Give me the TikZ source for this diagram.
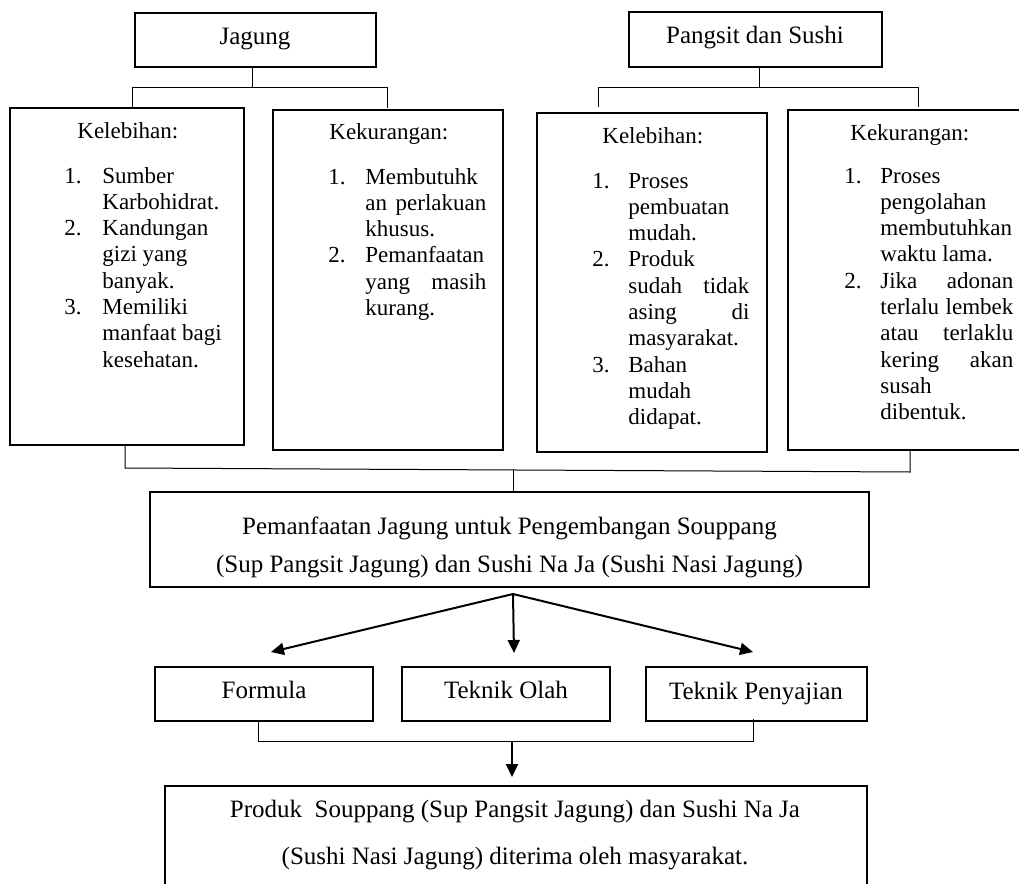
\documentclass[tikz,border=0pt]{standalone}
\usepackage{fontspec}
\setmainfont{Liberation Serif}
\usetikzlibrary{arrows.meta}
\newcommand\jl[1]{\makebox[\linewidth][s]{#1}}
\newcommand\lstfont{\fontsize{11.5}{13.15}\selectfont}
\newcommand\bigfont{\fontsize{12.5}{15}\selectfont}
\begin{document}
\begin{tikzpicture}[x=0.5pt,y=-0.5pt,
  box/.style={draw, line width=1pt, inner sep=0pt},
  conn/.style={line width=0.5pt},
  arr/.style={line width=1pt, -{Triangle[length=6.5pt,width=6pt]}},
  big/.style={font=\bigfont, inner sep=0pt, anchor=base},
  lst/.style={font=\lstfont, inner sep=0pt, anchor=base west}]
\useasboundingbox (0,0) rectangle (1019,884);

% boxes
\node[box, minimum width=120.5pt, minimum height=27pt] (jag) at (255.5,40) {};
\node[box, minimum width=126.5pt, minimum height=27.5pt] (pan) at (755.5,39.5) {};
\node[box, minimum width=117pt, minimum height=168.5pt] (k1) at (127,276.5) {};
\node[box, minimum width=115pt, minimum height=170pt] (k2) at (388,280) {};
\node[box, minimum width=115pt, minimum height=169.5pt] (k3) at (652,282.5) {};
\node[box, minimum width=118.5pt, minimum height=170pt] (k4) at (906.5,280) {};
\node[box, minimum width=359.5pt, minimum height=47.5pt] (main) at (509.5,539.5) {};
\node[box, minimum width=109pt, minimum height=27pt] (f1) at (264,694) {};
\node[box, minimum width=104pt, minimum height=27pt] (f2) at (506,694) {};
\node[box, minimum width=110.5pt, minimum height=27pt] (f3) at (756.5,694) {};
\node[box, minimum width=351pt, minimum height=57pt] (prod) at (516,843) {};

% top texts
\node[big] (tjag) at (255,44) {Jagung};
\node[big] (tpan) at (755,43) {Pangsit dan Sushi};

% box k1
\node[lst] (h1) at (77,138) {Kelebihan:};
\node[lst] (n11) at (64,183) {1.};
\node[lst] (t11) at (102,183) {\parbox[t]{65pt}{Sumber\\Karbohidrat.}};
\node[lst] (n12) at (64,235.6) {2.};
\node[lst] (t12) at (102,235.6) {\parbox[t]{65pt}{Kandungan\\gizi yang\\banyak.}};
\node[lst] (n13) at (64,314.5) {3.};
\node[lst] (t13) at (102,314.5) {\parbox[t]{65pt}{Memiliki\\manfaat bagi\\kesehatan.}};

% box k2
\node[lst] (h2) at (329,139) {Kekurangan:};
\node[lst] (n21) at (328,184) {1.};
\node[lst] (t21) at (365,184) {\parbox[t]{60.5pt}{Membutuhk\\\jl{an perlakuan}\\khusus.}};
\node[lst] (n22) at (328,262.9) {2.};
\node[lst] (t22) at (365,262.9) {\parbox[t]{60.5pt}{Pemanfaatan\\\jl{yang masih}\\kurang.}};

% box k3
\node[lst] (h3) at (602,143) {Kelebihan:};
\node[lst] (n31) at (592,188) {1.};
\node[lst] (t31) at (628,188) {\parbox[t]{60.5pt}{Proses\\pembuatan\\mudah.}};
\node[lst] (n32) at (592,266.9) {2.};
\node[lst] (t32) at (628,266.9) {\parbox[t]{60.5pt}{Produk\\\jl{sudah tidak}\\\jl{asing di}\\masyarakat.}};
\node[lst] (n33) at (592,372.1) {3.};
\node[lst] (t33) at (628,372.1) {\parbox[t]{60.5pt}{Bahan\\mudah\\didapat.}};

% box k4
\node[lst] (h4) at (850,140) {Kekurangan:};
\node[lst] (n41) at (844,183) {1.};
\node[lst] (t41) at (880,183) {\parbox[t]{66.5pt}{Proses\\pengolahan\\membutuhkan\\waktu lama.}};
\node[lst] (n42) at (844,288.2) {2.};
\node[lst] (t42) at (880,288.2) {\parbox[t]{66.5pt}{\jl{Jika adonan}\\\jl{terlalu lembek}\\\jl{atau terlaklu}\\\jl{kering akan}\\susah\\dibentuk.}};

% main texts
\node[big] (m1) at (509.5,534) {Pemanfaatan Jagung untuk Pengembangan Souppang};
\node[big] (m2) at (509.5,572) {(Sup Pangsit Jagung) dan Sushi Na Ja (Sushi Nasi Jagung)};
\node[big] (tf1) at (264,698) {Formula};
\node[big] (tf2) at (506,698) {Teknik Olah};
\node[big] (tf3) at (756,699) {Teknik Penyajian};
\node[big] (p1) at (515,817) {Produk\ \ Souppang (Sup Pangsit Jagung) dan Sushi Na Ja};
\node[big] (p2) at (515,864) {(Sushi Nasi Jagung) diterima oleh masyarakat.};

% top tree connectors
\coordinate (jb) at (252,87);
\coordinate (jL) at (132,108);
\coordinate (jR) at (387,108);
\draw[conn] (jb |- jag.south) -- (jb);
\draw[conn] (jL) -- (jL |- jb) -- (jR |- jb) -- (jR);
\coordinate (pb) at (759,87);
\coordinate (pL) at (598,107);
\coordinate (pR) at (918,107);
\draw[conn] (pb |- pan.south) -- (pb);
\draw[conn] (pL) -- (pL |- pb) -- (pR |- pb) -- (pR);

% join to main
\coordinate (u1) at (125,468);
\coordinate (u2) at (910,472);
\coordinate (um) at (513,470);
\draw[conn] (k1.south -| u1) -- (u1) -- (u2) -- (k4.south -| u2);
\draw[conn] (um) -- (main.north -| um);

% arrows
\coordinate (sp) at (513,594);
\coordinate (a1) at (271,652);
\coordinate (a2) at (514,653);
\coordinate (a3) at (753,652);
\draw[arr] (sp) -- (a1);
\draw[arr] (sp) -- (a2);
\draw[arr] (sp) -- (a3);

% bottom join
\coordinate (b1) at (258,741);
\coordinate (b2) at (753,741);
\coordinate (bm) at (512,741);
\coordinate (bt) at (512,777);
\draw[conn] (f1.south -| b1) -- (b1) -- (b2) -- ([yshift=1.5pt]f3.south -| b2);
\draw[arr] (bm) -- (bt);
\end{tikzpicture}
\end{document}
